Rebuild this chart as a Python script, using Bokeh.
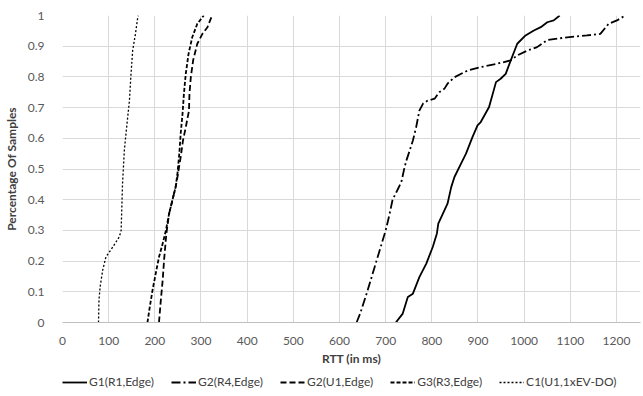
from bokeh.plotting import figure
from bokeh.layouts import column
from bokeh.models import Range1d, FixedTicker, CustomJSTickFormatter, Legend, LegendItem
from bokeh.embed import file_html
from bokeh.resources import INLINE

# ---- data (RTT in ms vs cumulative fraction) ----
g1_x = [722, 737, 748, 759, 773, 788, 802, 811, 814, 824, 834, 842, 849, 863, 874, 888, 899, 906, 924, 939, 949, 960, 971, 985, 1003, 1021, 1036, 1050, 1064, 1077]
g1_y = [0.0, 0.029, 0.083, 0.094, 0.148, 0.192, 0.246, 0.29, 0.322, 0.355, 0.387, 0.441, 0.474, 0.517, 0.55, 0.604, 0.642, 0.653, 0.702, 0.783, 0.794, 0.81, 0.854, 0.908, 0.935, 0.951, 0.962, 0.978, 0.984, 1.0]

g2r4_x = [637, 645, 660, 670, 680, 690, 700, 708, 715, 725, 734, 741, 745, 752, 759, 766, 773, 781, 791, 806, 816, 827, 834, 849, 878, 906, 942, 971, 985, 1007, 1028, 1050, 1093, 1136, 1165, 1183, 1201, 1219]
g2r4_y = [0.0, 0.03, 0.1, 0.15, 0.2, 0.25, 0.3, 0.35, 0.4, 0.43, 0.458, 0.506, 0.528, 0.56, 0.593, 0.636, 0.69, 0.713, 0.723, 0.729, 0.75, 0.761, 0.778, 0.799, 0.821, 0.832, 0.843, 0.854, 0.87, 0.886, 0.897, 0.92, 0.929, 0.935, 0.94, 0.973, 0.984, 1.0]

g2u1_x = [209, 213, 217, 220, 225, 231, 238, 245, 249, 256, 261, 267, 274, 275, 278, 283, 292, 303, 314, 324]
g2u1_y = [0.0, 0.073, 0.138, 0.203, 0.29, 0.355, 0.398, 0.441, 0.474, 0.539, 0.593, 0.636, 0.69, 0.745, 0.8, 0.854, 0.908, 0.94, 0.962, 1.0]

g3r3_x = [184, 189, 195, 202, 209, 217, 224, 231, 238, 245, 249, 253, 256, 260, 263, 267, 273, 281, 292, 306]
g3r3_y = [0.0, 0.05, 0.105, 0.16, 0.213, 0.257, 0.3, 0.355, 0.398, 0.441, 0.485, 0.55, 0.615, 0.68, 0.745, 0.81, 0.875, 0.929, 0.973, 1.0]

c1_x = [78, 79, 81.5, 87, 94, 109, 123, 127, 130, 134, 137.5, 145, 148, 152, 158, 163, 164]
c1_y = [0.0, 0.073, 0.116, 0.17, 0.213, 0.246, 0.279, 0.3, 0.452, 0.561, 0.615, 0.723, 0.8, 0.886, 0.94, 0.994, 1.0]

x_ticks = [0, 100, 200, 300, 400, 500, 600, 700, 800, 900, 1000, 1100, 1200]
y_ticks = [0, 0.1, 0.2, 0.3, 0.4, 0.5, 0.6, 0.7, 0.8, 0.9, 1.0]

series_names = ["G1(R1,Edge)", "G2(R4,Edge)", "G2(U1,Edge)", "G3(R3,Edge)", "C1(U1,1xEV-DO)"]

FONT = "Lato"
GRID = "#d9d9d9"
TXT = "#595959"

styles = [dict(line_color="black", line_width=1.8),
          dict(line_color="black", line_width=1.8, line_dash="9 3 2 3"),
          dict(line_color="black", line_width=1.8, line_dash="6 3"),
          dict(line_color="black", line_width=1.8, line_dash="4 2"),
          dict(line_color="black", line_width=1.3, line_dash="2 2")]

all_x = [g1_x, g2r4_x, g2u1_x, g3r3_x, c1_x]
all_y = [g1_y, g2r4_y, g2u1_y, g3r3_y, c1_y]

p = figure(width=643, height=368, output_backend="svg", toolbar_location=None,
           x_range=Range1d(0, 1252), y_range=Range1d(0, 1),
           min_border_left=59, min_border_right=3, min_border_top=15, min_border_bottom=46)
p.outline_line_color = None
p.background_fill_color = "white"
p.border_fill_color = "white"

p.xaxis.ticker = FixedTicker(ticks=x_ticks)
p.yaxis.ticker = FixedTicker(ticks=y_ticks)
p.yaxis.formatter = CustomJSTickFormatter(code="return String(Math.round(tick*10)/10);")

for ax in (p.xaxis[0], p.yaxis[0]):
    ax.major_tick_line_color = None
    ax.minor_tick_line_color = None
    ax.major_label_text_font = FONT
    ax.major_label_text_font_size = "12px"
    ax.major_label_text_color = TXT
    ax.axis_label_text_font = FONT
    ax.axis_label_text_font_size = "12px"
    ax.axis_label_text_font_style = "bold"
    ax.axis_label_text_color = "#404040"

p.xaxis.axis_line_color = "#bfbfbf"
p.yaxis.axis_line_color = None
p.xaxis.axis_label = "RTT (in ms)"
p.yaxis.axis_label = "Percentage Of Samples"
p.xaxis.major_label_standoff = 8
p.xaxis.axis_label_standoff = 3
p.yaxis.major_label_standoff = 12
p.yaxis.axis_label_standoff = 6

p.xgrid.grid_line_color = GRID
p.ygrid.grid_line_color = GRID
p.xgrid.ticker = FixedTicker(ticks=x_ticks)
p.ygrid.ticker = FixedTicker(ticks=y_ticks)

for xs, ys, st in zip(all_x, all_y, styles):
    p.line(xs, ys, **st)

# legend strip below the chart (series drawn off-view; only the legend shows)
q = figure(width=643, height=28, output_backend="svg", toolbar_location=None,
           x_axis_type=None, y_axis_type=None, min_border=0,
           x_range=Range1d(-2, -1), y_range=Range1d(0, 1))
q.outline_line_color = None
q.grid.visible = False
legend_renderers = [q.line(xs, ys, **st) for xs, ys, st in zip(all_x, all_y, styles)]

legend = Legend(items=[LegendItem(label=n, renderers=[r]) for n, r in
                       zip(series_names, legend_renderers)],
                orientation="horizontal", location=(0, 7),
                label_text_font=FONT, label_text_font_size="12px",
                label_text_color="#404040", glyph_width=25, glyph_height=12,
                label_standoff=2, spacing=17, padding=0, margin=0,
                label_height=14, border_line_color=None, background_fill_alpha=0)
q.add_layout(legend)

open("out.html", "w").write(file_html(column(p, q), INLINE))
